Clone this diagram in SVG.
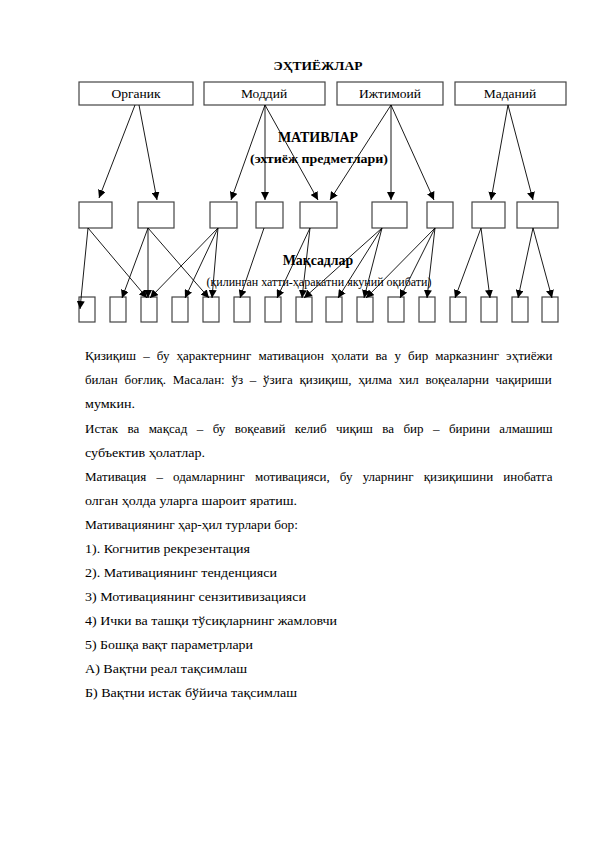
<svg xmlns="http://www.w3.org/2000/svg" width="595" height="842" viewBox="0 0 595 842">
<style>
.box{fill:#fff;stroke:#444;stroke-width:1.2}
.lbl{font-family:"Liberation Serif","Times New Roman",serif;font-size:13.5px;fill:#000;text-anchor:middle}
.hd{font-family:"Liberation Serif","Times New Roman",serif;font-weight:bold;fill:#000;text-anchor:middle}
.sub{font-family:"Liberation Serif","Times New Roman",serif;font-size:11.8px;fill:#000;text-anchor:middle}
.con line{stroke:#000;stroke-width:0.9;marker-end:url(#ah)}
.para{font-family:"Liberation Serif","Times New Roman",serif;font-size:13px;fill:#000}
</style>
<defs>
<marker id="ah" markerUnits="userSpaceOnUse" markerWidth="9" markerHeight="8" refX="8" refY="4" orient="auto">
<path d="M0,0 L8,4 L0,8 Z" fill="#000"/>
</marker>
</defs>
<rect width="595" height="842" fill="#fff"/>
<text class="hd" x="318" y="70" font-size="13.5">ЭҲТИЁЖЛАР</text>
<g id="n-organik"><rect class="box" x="79" y="82" width="114" height="23"/><text class="lbl" x="136" y="98">Органик</text></g>
<g id="n-moddiy"><rect class="box" x="204" y="82" width="121" height="23"/><text class="lbl" x="264" y="98">Моддий</text></g>
<g id="n-ijtimoiy"><rect class="box" x="337" y="82" width="106" height="23"/><text class="lbl" x="390" y="98">Ижтимоий</text></g>
<g id="n-madaniy"><rect class="box" x="455" y="82" width="111" height="23"/><text class="lbl" x="510" y="98">Маданий</text></g>
<text class="hd" x="318" y="142" font-size="14">МАТИВЛАР</text>
<text class="hd" x="319" y="163" font-size="13" textLength="138" lengthAdjust="spacingAndGlyphs">(эхтиёж предметлари)</text>
<g id="mid">
<rect id="m1" class="box" x="79" y="202" width="33" height="26"/>
<rect id="m2" class="box" x="138" y="202" width="36" height="26"/>
<rect id="m3" class="box" x="210" y="202" width="27" height="26"/>
<rect id="m4" class="box" x="256" y="202" width="27" height="26"/>
<rect id="m5" class="box" x="300" y="202" width="37" height="26"/>
<rect id="m6" class="box" x="372" y="202" width="35" height="26"/>
<rect id="m7" class="box" x="427" y="202" width="26" height="26"/>
<rect id="m8" class="box" x="472" y="202" width="33" height="26"/>
<rect id="m9" class="box" x="517" y="202" width="41" height="26"/>
</g>
<text class="hd" x="318" y="265" font-size="13.8">Мақсадлар</text>
<text class="sub" x="319" y="286" textLength="225" lengthAdjust="spacingAndGlyphs">(қилинган хатти-ҳаракатни якуний оқибати)</text>
<g id="bottom">
<rect class="box" x="79" y="297" width="16" height="25"/>
<rect class="box" x="110" y="297" width="16" height="25"/>
<rect class="box" x="141" y="297" width="16" height="25"/>
<rect class="box" x="172" y="297" width="16" height="25"/>
<rect class="box" x="203" y="297" width="16" height="25"/>
<rect class="box" x="234" y="297" width="16" height="25"/>
<rect class="box" x="265" y="297" width="16" height="25"/>
<rect class="box" x="296" y="297" width="16" height="25"/>
<rect class="box" x="326" y="297" width="16" height="25"/>
<rect class="box" x="357" y="297" width="16" height="25"/>
<rect class="box" x="388" y="297" width="16" height="25"/>
<rect class="box" x="419" y="297" width="16" height="25"/>
<rect class="box" x="450" y="297" width="16" height="25"/>
<rect class="box" x="481" y="297" width="16" height="25"/>
<rect class="box" x="512" y="297" width="16" height="25"/>
<rect class="box" x="542" y="297" width="16" height="25"/>
</g>
<g class="con" id="connectors">
<line x1="135" y1="105" x2="99" y2="198"/>
<line x1="139" y1="105" x2="157" y2="200"/>
<line x1="265" y1="105" x2="231" y2="200"/>
<line x1="265" y1="105" x2="265" y2="200"/>
<line x1="265" y1="105" x2="318" y2="200"/>
<line x1="391" y1="105" x2="330" y2="200"/>
<line x1="391" y1="105" x2="391" y2="200"/>
<line x1="391" y1="105" x2="434" y2="200"/>
<line x1="508" y1="105" x2="491" y2="200"/>
<line x1="508" y1="105" x2="533" y2="200"/>
<line x1="88" y1="228" x2="80" y2="309"/>
<line x1="88" y1="228" x2="147" y2="298"/>
<line x1="148" y1="228" x2="122" y2="298"/>
<line x1="148" y1="228" x2="148" y2="298"/>
<line x1="148" y1="228" x2="209" y2="298"/>
<line x1="218" y1="228" x2="150" y2="298"/>
<line x1="218" y1="228" x2="185" y2="298"/>
<line x1="218" y1="228" x2="212" y2="298"/>
<line x1="264" y1="228" x2="240" y2="298"/>
<line x1="310" y1="228" x2="277" y2="298"/>
<line x1="310" y1="228" x2="302" y2="298"/>
<line x1="382" y1="228" x2="304" y2="298"/>
<line x1="382" y1="228" x2="338" y2="298"/>
<line x1="382" y1="228" x2="364" y2="298"/>
<line x1="435" y1="228" x2="366" y2="298"/>
<line x1="435" y1="228" x2="400" y2="298"/>
<line x1="435" y1="228" x2="427" y2="298"/>
<line x1="481" y1="228" x2="455" y2="298"/>
<line x1="481" y1="228" x2="490" y2="298"/>
<line x1="533" y1="228" x2="518" y2="298"/>
<line x1="533" y1="228" x2="552" y2="298"/>
</g>
<g id="text">
<text class="para" x="85" y="360" word-spacing="3.9">Қизиқиш – бу ҳарактернинг мативацион ҳолати ва у бир марказнинг эҳтиёжи</text>
<text class="para" x="85" y="384" word-spacing="3.5">билан боғлиқ. Масалан: ўз – ўзига қизиқиш, ҳилма хил воқеаларни чақириши</text>
<text class="para" x="85" y="408" textLength="50" lengthAdjust="spacingAndGlyphs">мумкин.</text>
<text class="para" x="85" y="433" word-spacing="6.2">Истак ва мақсад – бу воқеавий келиб чиқиш ва бир – бирини алмашиш</text>
<text class="para" x="85" y="457" textLength="120" lengthAdjust="spacingAndGlyphs">субъектив ҳолатлар.</text>
<text class="para" x="85" y="481" word-spacing="6.9">Мативация – одамларнинг мотивацияси, бу уларнинг қизиқишини инобатга</text>
<text class="para" x="85" y="505" textLength="212" lengthAdjust="spacingAndGlyphs">олган ҳолда уларга шароит яратиш.</text>
<text class="para" x="85" y="529" textLength="213" lengthAdjust="spacingAndGlyphs">Мативациянинг ҳар-ҳил турлари бор:</text>
<text class="para" x="85" y="553" textLength="165" lengthAdjust="spacingAndGlyphs">1). Когнитив рекрезентация</text>
<text class="para" x="85" y="577" textLength="192" lengthAdjust="spacingAndGlyphs">2). Мативациянинг тенденцияси</text>
<text class="para" x="85" y="601" textLength="221" lengthAdjust="spacingAndGlyphs">3) Мотивациянинг сензитивизацияси</text>
<text class="para" x="85" y="625" textLength="252" lengthAdjust="spacingAndGlyphs">4) Ички ва ташқи тўсиқларнинг жамловчи</text>
<text class="para" x="85" y="649" textLength="168" lengthAdjust="spacingAndGlyphs">5) Бошқа вақт параметрлари</text>
<text class="para" x="85" y="673" textLength="162" lengthAdjust="spacingAndGlyphs">А) Вақтни реал тақсимлаш</text>
<text class="para" x="85" y="697" textLength="212" lengthAdjust="spacingAndGlyphs">Б) Вақтни истак бўйича тақсимлаш</text>
</g>
</svg>
